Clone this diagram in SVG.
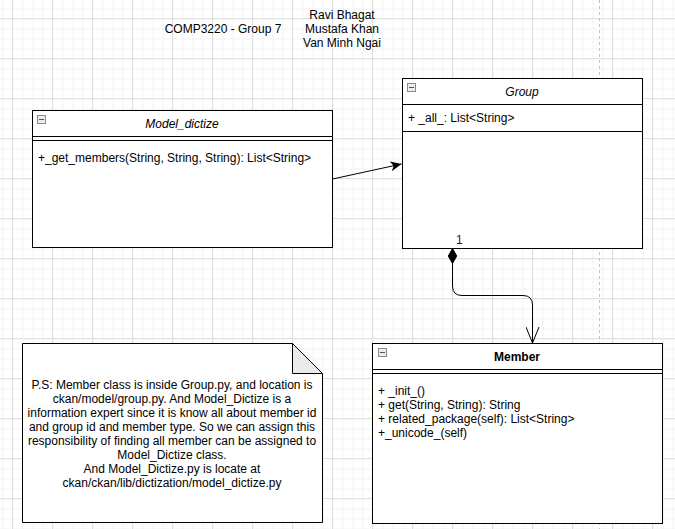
<svg xmlns="http://www.w3.org/2000/svg" width="675" height="529" viewBox="0 0 675 529">
<defs>
<pattern id="minor" x="2.5" y="8.5" width="10" height="10" patternUnits="userSpaceOnUse">
<path d="M0.5,0 V10 M0,0.5 H10" fill="none" stroke="#f3f3f3" stroke-width="1"/>
</pattern>
<pattern id="major" x="12" y="18" width="40" height="40" patternUnits="userSpaceOnUse">
<path d="M0.5,0 V40 M0,0.5 H40" fill="none" stroke="#e0e0e0" stroke-width="1"/>
</pattern>
<marker id="classic" viewBox="0 0 12 10" refX="11" refY="5" markerWidth="12" markerHeight="10" markerUnits="userSpaceOnUse" orient="auto">
<path d="M0,0 L11,5 L0,10 L3,5 Z" fill="#000"/>
</marker>
<marker id="openv" viewBox="0 0 18 14" refX="17" refY="7" markerWidth="18" markerHeight="14" markerUnits="userSpaceOnUse" orient="auto">
<path d="M1,0.5 L17,7 L1,13.5" fill="none" stroke="#000" stroke-width="1"/>
</marker>
<marker id="diamond" viewBox="0 0 16 10" refX="0" refY="5" markerWidth="16" markerHeight="10" markerUnits="userSpaceOnUse" orient="auto">
<path d="M0,5 L7.5,0.8 L15,5 L7.5,9.2 Z" fill="#000" stroke="#000" stroke-width="1"/>
</marker>
</defs>
<style>
text{font-family:"Liberation Sans",Arial,sans-serif;font-size:12px;fill:#000}
.box{fill:#fff;stroke:#000;stroke-width:1}
.sep{stroke:#000;stroke-width:1;fill:none}
.ico{fill:#ececec;stroke:#8a8a8a;stroke-width:1}
.icoline{stroke:#555;stroke-width:1}
.it{font-style:italic}
.b{font-weight:bold}
.mid{text-anchor:middle}
.edge{fill:none;stroke:#000;stroke-width:1}
</style>
<rect width="675" height="529" fill="#fff"/>
<rect width="675" height="529" fill="url(#minor)"/>
<rect width="675" height="529" fill="url(#major)"/>
<line x1="599.5" y1="0" x2="599.5" y2="529" stroke="#c4c4c4" stroke-width="1" stroke-dasharray="3,3"/>

<g id="title">
<text class="mid" x="223" y="33">COMP3220 - Group 7</text>
<text class="mid" x="342" y="19">Ravi Bhagat</text>
<text class="mid" x="342" y="33">Mustafa Khan</text>
<text class="mid" x="342" y="47">Van Minh Ngai</text>
</g>

<g id="model-dictize">
<rect class="box" x="32.5" y="110.5" width="300" height="137"/>
<line class="sep" x1="32.5" y1="136.5" x2="332.5" y2="136.5"/>
<line class="sep" x1="32.5" y1="140.5" x2="332.5" y2="140.5"/>
<rect class="ico" x="37.5" y="115.5" width="8" height="8"/>
<line class="icoline" x1="39" y1="119.5" x2="44" y2="119.5"/>
<text class="mid it" x="182" y="127.5">Model_dictize</text>
<text x="38" y="161.5">+_get_members(String, String, String): List&lt;String&gt;</text>
</g>

<g id="group">
<rect class="box" x="402.5" y="78.5" width="240" height="170"/>
<line class="sep" x1="402.5" y1="104.5" x2="642.5" y2="104.5"/>
<line class="sep" x1="402.5" y1="131.5" x2="642.5" y2="131.5"/>
<rect class="ico" x="407.5" y="83.5" width="8" height="8"/>
<line class="icoline" x1="409" y1="87.5" x2="414" y2="87.5"/>
<text class="mid it" x="522" y="96">Group</text>
<text x="408" y="122">+ _all_: List&lt;String&gt;</text>
</g>

<g id="member">
<rect class="box" x="372.5" y="343.5" width="290" height="180"/>
<line class="sep" x1="372.5" y1="369.5" x2="662.5" y2="369.5"/>
<line class="sep" x1="372.5" y1="373.5" x2="662.5" y2="373.5"/>
<rect class="ico" x="378.5" y="348.5" width="8" height="8"/>
<line class="icoline" x1="380" y1="352.5" x2="385" y2="352.5"/>
<text class="mid b" x="517" y="361">Member</text>
<text x="378" y="395.3">+ _init_()</text>
<text x="378" y="409.1">+ get(String, String): String</text>
<text x="378" y="423">+ related_package(self): List&lt;String&gt;</text>
<text x="378" y="436.9">+_unicode_(self)</text>
</g>

<g id="note">
<path class="box" d="M22.5,343.5 H292.5 L322.5,373.5 V522.5 H22.5 Z"/>
<path d="M292.5,343.5 V373.5 H322.5 Z" fill="#ebebeb" stroke="#000" stroke-width="1"/>
<text class="mid" x="172" y="389.3">P.S: Member class is inside Group.py, and location is</text>
<text class="mid" x="172" y="403.2">ckan/model/group.py. And Model_Dictize is a</text>
<text class="mid" x="172" y="417.1">information expert since it is know all about member id</text>
<text class="mid" x="172" y="431">and group id and member type. So we can assign this</text>
<text class="mid" x="172" y="444.9">responsibility of finding all member can be assigned to</text>
<text class="mid" x="172" y="458.8">Model_Dictize class.</text>
<text class="mid" x="172" y="472.7">And Model_Dictize.py is locate at</text>
<text class="mid" x="172" y="486.6">ckan/ckan/lib/dictization/model_dictize.py</text>
</g>

<g id="connectors">
<line class="edge" x1="332.5" y1="179" x2="401.5" y2="164" marker-end="url(#classic)"/>
<path class="edge" d="M452.5,248.5 V286 Q452.5,295.5 462,295.5 H523 Q532.5,295.5 532.5,305 V343" marker-start="url(#diamond)" marker-end="url(#openv)"/>
<text x="456" y="243.5" fill="#800000" style="fill:#7a0000">1</text>
</g>
</svg>
